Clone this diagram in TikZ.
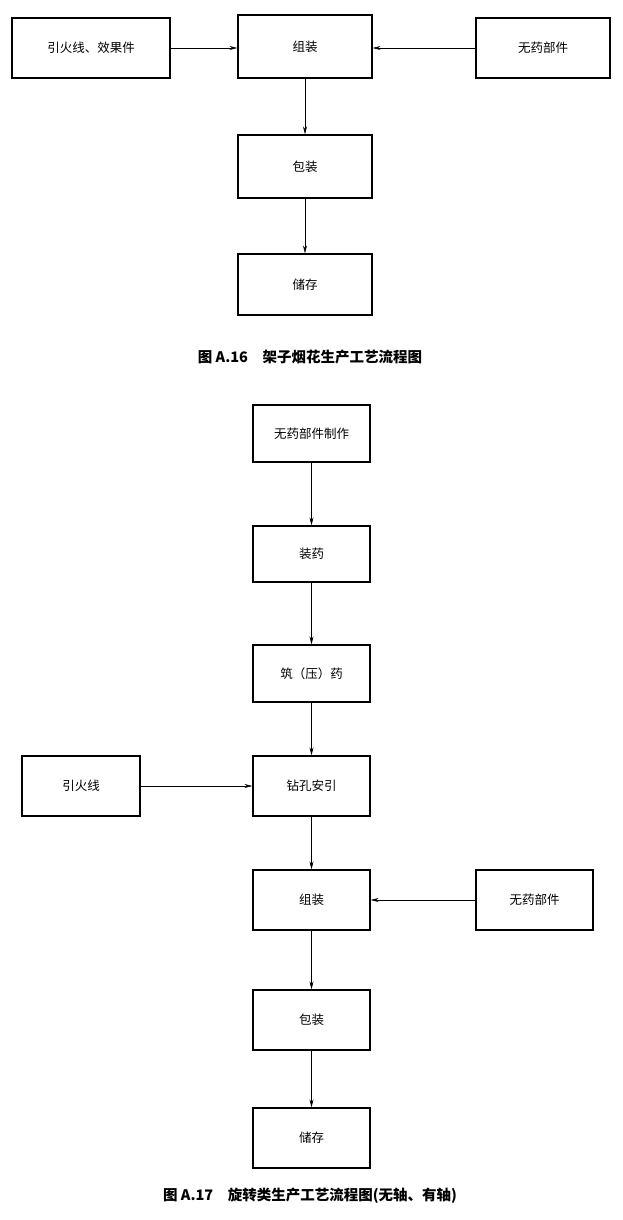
\documentclass[tikz,border=0pt]{standalone}
\usepackage{fontspec}
\setmainfont{Noto Sans CJK SC}
\usetikzlibrary{arrows.meta}
\begin{document}
\begin{tikzpicture}[x=1pt,y=-1pt,
  box/.style={draw,line width=1.2pt,inner sep=0pt,font=\fontsize{12.5}{14}\selectfont},
  arr/.style={-{Stealth[length=8pt,width=4pt]},line width=0.6pt},
  captxt/.style={font=\bfseries\fontsize{14.5}{17}\selectfont}]
\useasboundingbox (0,0) rectangle (623,1220);
\newcommand{\bx}[6]{\node[box,minimum width=#4-#2,minimum height=#5-#3] (#1) at ({(#2+#4)/2},{(#3+#5)/2}) {#6};}
\bx{a1}{12}{18}{170}{78}{引火线、效果件}
\bx{a2}{238}{15}{372}{78}{组装}
\bx{a3}{476}{18}{610}{78}{无药部件}
\bx{a4}{238}{135}{372}{198}{包装}
\bx{a5}{238}{254}{372}{315}{储存}
\draw[arr] (a1.east) -- (a1.east -| a2.west);
\draw[arr] (a3.west) -- (a3.west -| a2.east);
\draw[arr] (a2) -- (a4);
\draw[arr] (a4) -- (a5);
\node[captxt] (c1) at (310,357) {图 A.16\quad 架子烟花生产工艺流程图};
\bx{b1}{253}{405}{370}{462}{无药部件制作}
\bx{b2}{253}{526}{370}{582}{装药}
\bx{b3}{253}{645}{370}{702}{筑（压）药}
\bx{b4}{22}{756}{140}{816}{引火线}
\bx{b5}{253}{756}{370}{816}{钻孔安引}
\bx{b6}{253}{870}{370}{930}{组装}
\bx{b7}{476}{870}{593}{930}{无药部件}
\bx{b8}{253}{990}{370}{1050}{包装}
\bx{b9}{253}{1108}{370}{1168}{储存}
\draw[arr] (b1) -- (b2);
\draw[arr] (b2) -- (b3);
\draw[arr] (b3) -- (b5);
\draw[arr] (b4) -- (b5);
\draw[arr] (b5) -- (b6);
\draw[arr] (b7) -- (b6);
\draw[arr] (b6) -- (b8);
\draw[arr] (b8) -- (b9);
\node[captxt] (c2) at (310,1196) {图 A.17\quad 旋转类生产工艺流程图(无轴、有轴)};
\end{tikzpicture}
\end{document}
